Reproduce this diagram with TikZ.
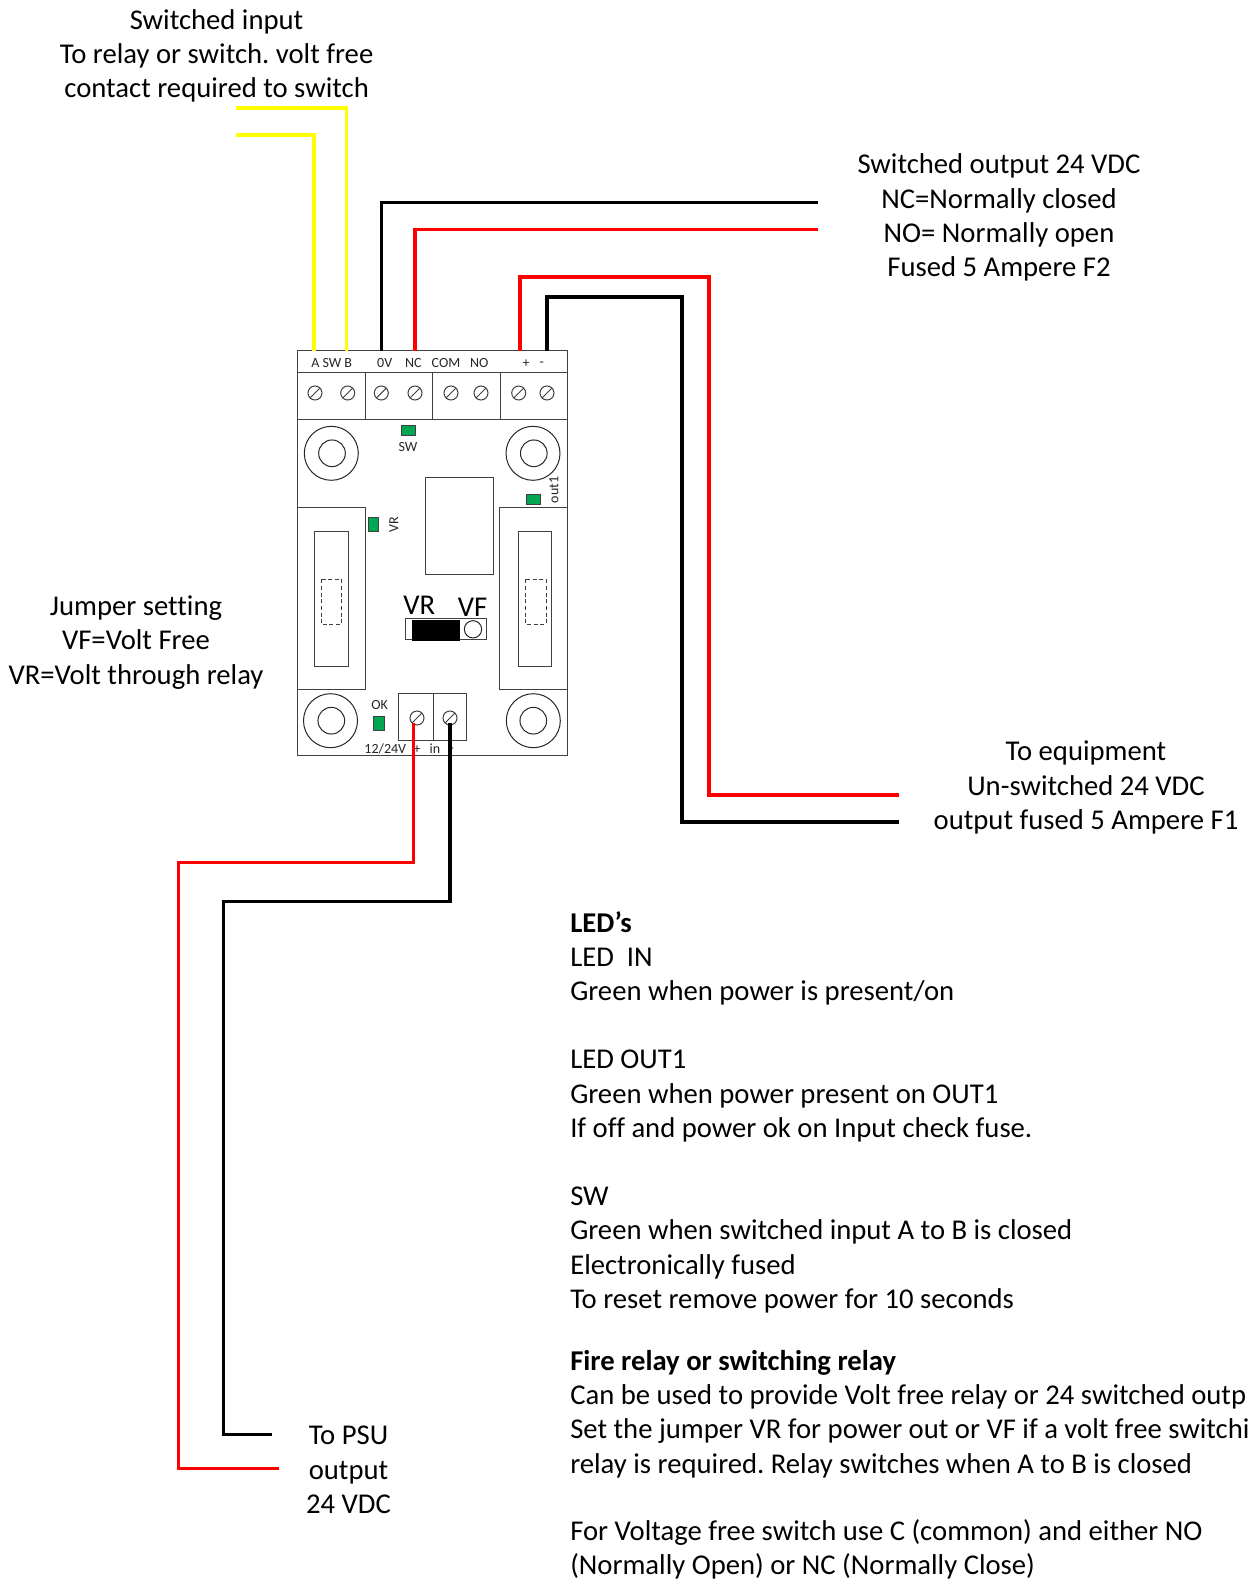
\documentclass[tikz,border=0pt]{standalone}
\usepackage{fontspec}
\setmainfont{Carlito}[Ligatures=CommonOff]
\definecolor{ledgreen}{RGB}{0,166,81}
\definecolor{wireyellow}{RGB}{255,255,0}
\newcommand{\bodyfont}{\frenchspacing\fontsize{21.5}{25.7}\selectfont}
\newcommand{\pcbfont}{\fontsize{10.5}{12}\selectfont}
\tikzset{
  pcb/.style={draw=black!75, line width=.75pt},
  screw/.style={circle, draw=black!75, line width=.75pt, minimum size=10.5pt, inner sep=0pt,
    path picture={\draw[black!75, line width=.75pt] (path picture bounding box.south west) -- (path picture bounding box.north east);}},
  mountout/.style={circle, draw=black!85, line width=.75pt, minimum size=40.5pt, inner sep=0pt},
  mountin/.style={circle, draw=black!85, line width=.75pt, minimum size=20pt, inner sep=0pt},
  led/.style={draw=black!75, fill=ledgreen, line width=.75pt, inner sep=0pt},
  pcblabel/.style={font=\pcbfont, inner sep=0pt, text=black!85},
  biglabel/.style={font=\bodyfont, inner sep=0pt, align=center},
  notes/.style={font=\bodyfont, inner sep=0pt, align=left, anchor=west},
  wire/.style={line width=2.6pt, miter limit=10},
}
\begin{document}
\begin{tikzpicture}[x=.75pt, y=-.75pt]
\useasboundingbox (0,0) rectangle (1247,1580);
\clip (0,0) rectangle (1247,1580);
\draw[pcb] (297.7,350.7) rectangle (567,755);
\draw[pcb] (297.7,372.7) -- (567,372.7);
\draw[pcb] (297.7,419.3) -- (567,419.3);
\draw[pcb] (365.3,372.7) -- (365.3,419.3);
\draw[pcb] (432.3,372.7) -- (432.3,419.3);
\draw[pcb] (500,372.7) -- (500,419.3);
\draw[pcb] (297.7,507.7) rectangle (365.3,689.3);
\draw[pcb] (499.7,507.7) rectangle (567,689.3);
\draw[pcb] (314.3,531) rectangle (348.3,666);
\draw[pcb] (518,531) rectangle (551.7,666);
\draw[pcb, densely dashed] (321,579.3) rectangle (341.7,624.3);
\draw[pcb, densely dashed] (525.3,579.3) rectangle (546,624.3);
\draw[pcb] (425.7,477) rectangle (493.3,574.7);
\draw[pcb] (398.7,693.7) rectangle (466.3,740.3);
\draw[pcb] (433.7,693.7) -- (433.7,740.3);
\draw[pcb] (405.3,618.7) rectangle (486.7,639);
\fill[black] (412,620) rectangle (460,640.7);
\node[circle, draw=black!85, line width=.75pt, minimum size=13pt, inner sep=0pt] (jumperpin) at (473,629.3){};
\node[screw] (scrA) at (315,393){};
\node[screw] (scrB) at (347.7,393){};
\node[screw] (scrZero) at (381.3,393){};
\node[screw] (scrNC) at (415,393){};
\node[screw] (scrCOM) at (451,393){};
\node[screw] (scrNO) at (481,393){};
\node[screw] (scrPlus) at (518.7,393){};
\node[screw] (scrMinus) at (547,393){};
\node[screw] (scrInP) at (417,718){};
\node[screw] (scrInN) at (450,718){};
\node[mountout] (mnt1) at (331.3,453.3){};
\node[mountin] (mnt1i) at (332,453.3){};
\node[mountout] (mnt2) at (533,453.3){};
\node[mountin] (mnt2i) at (533.8,453.3){};
\node[mountout] (mnt3) at (330.5,720.7){};
\node[mountin] (mnt3i) at (331.3,720.7){};
\node[mountout] (mnt4) at (533.3,720.7){};
\node[mountin] (mnt4i) at (533.3,720.7){};
\node[led, minimum width=10.3pt, minimum height=7.3pt] (ledSW) at (408.8,430.2){};
\node[led, minimum width=10.5pt, minimum height=7.5pt] (ledOut) at (533.7,499.7){};
\node[led, minimum width=7.8pt, minimum height=10.2pt] (ledVR) at (373.5,524.5){};
\node[led, minimum width=8pt, minimum height=10.3pt] (ledOK) at (378.7,723.2){};
\node[pcblabel] (lblSW) at (408,446.7){SW};
\node[pcblabel, rotate=90] (lblOut) at (554,490){out1};
\node[pcblabel, rotate=90] (lblVR) at (394,525){VR};
\node[pcblabel] (lblOK) at (379.7,704.7){OK};
\node[pcblabel] (lblABS) at (331.7,362.7){A SW B};
\node[pcblabel] (lblZero) at (384.7,362.7){0V};
\node[pcblabel] (lblNC) at (413.3,362.7){NC};
\node[pcblabel] (lblCOM) at (446,362.7){COM};
\node[pcblabel] (lblNO) at (479.3,362.7){NO};
\node[pcblabel] (lblPlus) at (526,363.5){+};
\node[pcblabel] (lblMinus) at (541.7,364.5){-};
\node[pcblabel] (lblVolt) at (385.3,749){12/24V};
\node[pcblabel] (lblInP) at (417,749.5){+};
\node[pcblabel] (lblIn) at (435,749){in};
\node[pcblabel] (lblInN) at (451.7,750.5){-};
\node[biglabel] (lblJVR) at (419.3,605.5){VR};
\node[biglabel] (lblJVF) at (472.7,607.5){VF};
\coordinate (pinA) at (314,350.7);
\coordinate (pinB) at (346.7,350.7);
\coordinate (pinZero) at (381.3,350.7);
\coordinate (pinNC) at (415,350.7);
\coordinate (pinPlus) at (520,350.7);
\coordinate (pinMinus) at (547,350.7);
\coordinate (pinInP) at (413.3,722.7);
\coordinate (pinInN) at (450,722.7);
\coordinate (endA) at (236,135);
\coordinate (endB) at (236,108);
\coordinate (endZero) at (818,202.5);
\coordinate (endNC) at (818,229.7);
\coordinate (bendPlus) at (709,277);
\coordinate (endPlus) at (898.5,794.8);
\coordinate (bendMinus) at (682,297);
\coordinate (endMinus) at (898.5,822);
\coordinate (bendInP) at (178.3,862.3);
\coordinate (endInP) at (279,1468.6);
\coordinate (bendInN) at (223.6,901.5);
\coordinate (endInN) at (272,1434.4);
\draw[wire, wireyellow] (pinA) |- (endA);
\draw[wire, wireyellow] (pinB) |- (endB);
\draw[wire, black] (pinZero) |- (endZero);
\draw[wire, red] (pinNC) |- (endNC);
\draw[wire, red] (pinPlus) |- (bendPlus) |- (endPlus);
\draw[wire, black] (pinMinus) |- (bendMinus) |- (endMinus);
\draw[wire, red] (pinInP) |- (bendInP) |- (endInP);
\draw[wire, black] (pinInN) |- (bendInN) |- (endInN);
\node[biglabel] (txtSwitched) at (216.6,56){Switched input\\To relay or switch. volt free\\contact required to switch};
\node[biglabel] (txtOutput) at (999,217.5){Switched output 24 VDC\\NC=Normally closed\\NO= Normally open\\Fused 5 Ampere F2};
\node[biglabel] (txtEquip) at (1086,787.5){To equipment\\Un-switched 24 VDC\\output fused 5 Ampere F1};
\node[biglabel] (txtJumper) at (136,642.5){Jumper setting\\VF=Volt Free\\VR=Volt through relay};
\node[biglabel] (txtPSU) at (348.5,1470){To PSU\\output\\24 VDC};
\node[notes] (txtLed) at (570,958.5){\textbf{LED’s}\\LED~ IN\\Green when power is present/on};
\node[notes] (txtOut) at (570,1096){LED OUT1\\Green when power present on OUT1\\If off and power ok on Input check fuse.};
\node[notes] (txtSw) at (570,1250){SW\\Green when switched input A to B is closed\\Electronically fused\\To reset remove power for 10 seconds};
\node[notes] (txtFire) at (570,1414){\textbf{Fire relay or switching relay}\\Can be used to provide Volt free relay or 24 switched outp\\Set the jumper VR for power out or VF if a volt free switchi\\relay is required. Relay switches when A to B is closed};
\node[notes] (txtVfree) at (570,1549.5){For Voltage free switch use C (common) and either NO\\(Normally Open) or NC (Normally Close)};
\end{tikzpicture}
\end{document}
